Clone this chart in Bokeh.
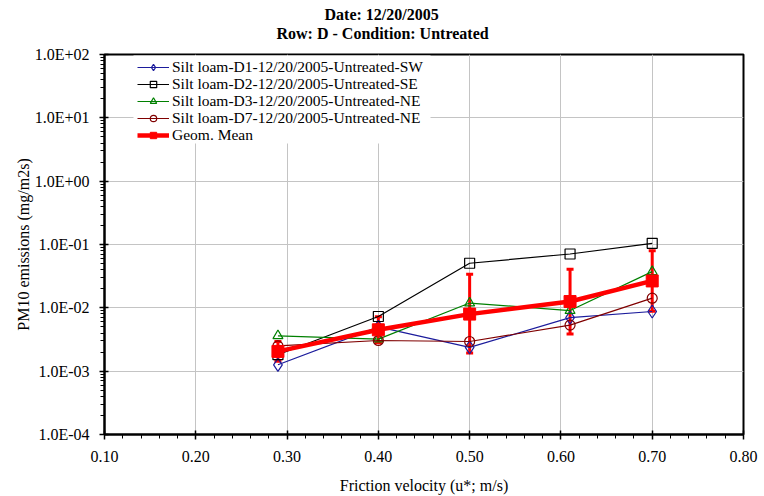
from bokeh.plotting import figure
from bokeh.models import (ColumnDataSource, FixedTicker, CustomJSTickFormatter, Legend,
                          LegendItem, Whisker, TeeHead, Title, BoxAnnotation)
from bokeh.embed import file_html
from bokeh.resources import INLINE

# ---------------- data ----------------
u_star = [0.29, 0.40, 0.50, 0.61, 0.70]
d1_sw = [1.26e-3, 5.0e-3, 2.37e-3, 7.0e-3, 8.75e-3]
d2_se = [1.82e-3, 7.3e-3, 5.06e-2, 7.08e-2, 1.045e-1]
d3_ne = [3.62e-3, 3.21e-3, 1.19e-2, 9.06e-3, 3.73e-2]
d7_ne = [2.5e-3, 3.05e-3, 2.94e-3, 5.34e-3, 1.42e-2]
geo_mean = [2.05e-3, 4.5e-3, 7.96e-3, 1.257e-2, 2.66e-2]
geo_upper = [2.94e-3, 7.2e-3, 3.4e-2, 4.07e-2, 8.0e-2]
geo_lower = [1.43e-3, 2.81e-3, 1.94e-3, 3.86e-3, 8.87e-3]

series_names = [
    "Silt loam-D1-12/20/2005-Untreated-SW",
    "Silt loam-D2-12/20/2005-Untreated-SE",
    "Silt loam-D3-12/20/2005-Untreated-NE",
    "Silt loam-D7-12/20/2005-Untreated-NE",
]
mean_name = "Geom. Mean"
title_lines = ["Date: 12/20/2005", "Row: D - Condition: Untreated"]
x_label = "Friction velocity (u*; m/s)"
y_label = "PM10 emissions (mg/m2s)"
x_ticks = [0.1, 0.2, 0.3, 0.4, 0.5, 0.6, 0.7, 0.8]
y_ticks = [1e-4, 1e-3, 1e-2, 1e-1, 1e0, 1e1, 1e2]

FONT = "Liberation Serif"
FS = "16px"

p = figure(width=764, height=496, output_backend="svg", toolbar_location=None,
           x_range=(0.1, 0.8), y_range=(1e-4, 1e2), y_axis_type="log",
           min_border_left=104, min_border_right=21, min_border_top=54,
           min_border_bottom=61)
p.background_fill_color = "white"
p.border_fill_color = "white"
p.outline_line_color = "black"
p.outline_line_width = 2

# titles: spacer nearest the frame, then line 2, then line 1 (outermost)
spacer = Title(text=" ", text_font_size="1px", standoff=10)
p.add_layout(spacer, "above")
t2 = Title(text=title_lines[1], align="left", offset=172, standoff=0,
           text_font=FONT, text_font_size=FS, text_font_style="bold",
           text_color="black")
p.add_layout(t2, "above")
p.title.text = title_lines[0]
p.title.align = "left"
p.title.offset = 220
p.title.standoff = 0
p.title.text_font = FONT
p.title.text_font_size = FS
p.title.text_font_style = "bold"
p.title.text_color = "black"

# ticks
x_minor = [round(0.1 + 0.02 * i, 2) for i in range(36)]
y_minor = [m * d for d in y_ticks[:-1] for m in range(2, 10)]
p.xaxis.ticker = FixedTicker(ticks=x_ticks, minor_ticks=x_minor)
p.yaxis.ticker = FixedTicker(ticks=y_ticks, minor_ticks=y_minor)
p.xaxis.formatter = CustomJSTickFormatter(code="return tick.toFixed(2);")
p.yaxis.formatter = CustomJSTickFormatter(code="""
const e = Math.round(Math.log10(tick));
const m = tick / Math.pow(10, e);
const s = e < 0 ? "-" : "+";
const a = Math.abs(e);
return m.toFixed(1) + "E" + s + (a < 10 ? "0" + a : String(a));
""")

for ax in (p.xaxis[0], p.yaxis[0]):
    ax.axis_line_color = "black"
    ax.axis_line_width = 2
    ax.major_tick_line_color = "black"
    ax.major_tick_line_width = 1.5
    ax.minor_tick_line_color = "black"
    ax.major_tick_in = 4
    ax.major_tick_out = 5
    ax.minor_tick_in = 0
    ax.minor_tick_out = 4
    ax.major_label_text_font = FONT
    ax.major_label_text_font_size = FS
    ax.major_label_text_color = "black"
    ax.axis_label_text_font = FONT
    ax.axis_label_text_font_size = FS
    ax.axis_label_text_font_style = "normal"
    ax.axis_label_text_color = "black"

p.xaxis.axis_label = x_label
p.yaxis.axis_label = y_label
p.xaxis.major_label_standoff = 11
p.yaxis.major_label_standoff = 10
p.xaxis.axis_label_standoff = 12
p.yaxis.axis_label_standoff = 0

p.xgrid.ticker = FixedTicker(ticks=x_ticks)
p.ygrid.ticker = FixedTicker(ticks=y_ticks)
p.grid.grid_line_color = "#c4c4c4"
p.grid.grid_line_width = 1

# series
colors = ["#1c1c9c", "black", "#008000", "#800000"]
markers = ["diamond", "square", "triangle", "circle"]
sizes = [13, 10, 10, 10]
items = []
for vals, name, c, mk, sz in zip([d1_sw, d2_se, d3_ne, d7_ne], series_names, colors, markers, sizes):
    src = ColumnDataSource(dict(x=u_star, y=vals))
    ln = p.line("x", "y", source=src, line_color=c, line_width=1.2)
    sc = p.scatter("x", "y", source=src, marker=mk, size=sz, line_color=c,
                   fill_color="white", fill_alpha=0, line_width=1.2)
    items.append(LegendItem(label=name, renderers=[ln, sc]))

# error bars
err_src = ColumnDataSource(dict(x=u_star, upper=geo_upper, lower=geo_lower))
wh = Whisker(source=err_src, base="x", upper="upper", lower="lower",
             line_color="#ff0000", line_width=3,
             upper_head=TeeHead(size=7, line_color="#ff0000", line_width=3),
             lower_head=TeeHead(size=7, line_color="#ff0000", line_width=3))
p.add_layout(wh)

msrc = ColumnDataSource(dict(x=u_star, y=geo_mean))
mln = p.line("x", "y", source=msrc, line_color="#ff0000", line_width=4.5)
msc = p.scatter("x", "y", source=msrc, marker="square", size=12,
                line_color="#ff0000", fill_color="#ff0000")
items.append(LegendItem(label=mean_name, renderers=[mln, msc]))

# white legend background (frame-relative screen units)
FRAME_H = 381
p.add_layout(BoxAnnotation(left=29, right=326, bottom=FRAME_H - 90, top=FRAME_H - 2,
                           left_units="screen", right_units="screen",
                           bottom_units="screen", top_units="screen",
                           fill_color="white", fill_alpha=1, line_alpha=0))

# legend: one row per Legend so that the row pitch matches the original (17 px)
for i, it in enumerate(items):
    centre_from_top = 12.7 + 17.07 * i
    lg = Legend(items=[it], location=(31, FRAME_H - centre_from_top - 11.85))
    lg.label_text_font = FONT
    lg.label_text_font_size = "15.5px"
    lg.label_text_color = "black"
    lg.glyph_width = 32
    lg.glyph_height = 16
    lg.label_height = 16
    lg.label_standoff = 3
    lg.spacing = 0
    lg.padding = 2
    lg.margin = 0
    lg.border_line_alpha = 0
    lg.background_fill_alpha = 0
    p.add_layout(lg)

open("out.html", "w").write(file_html(p, INLINE))
